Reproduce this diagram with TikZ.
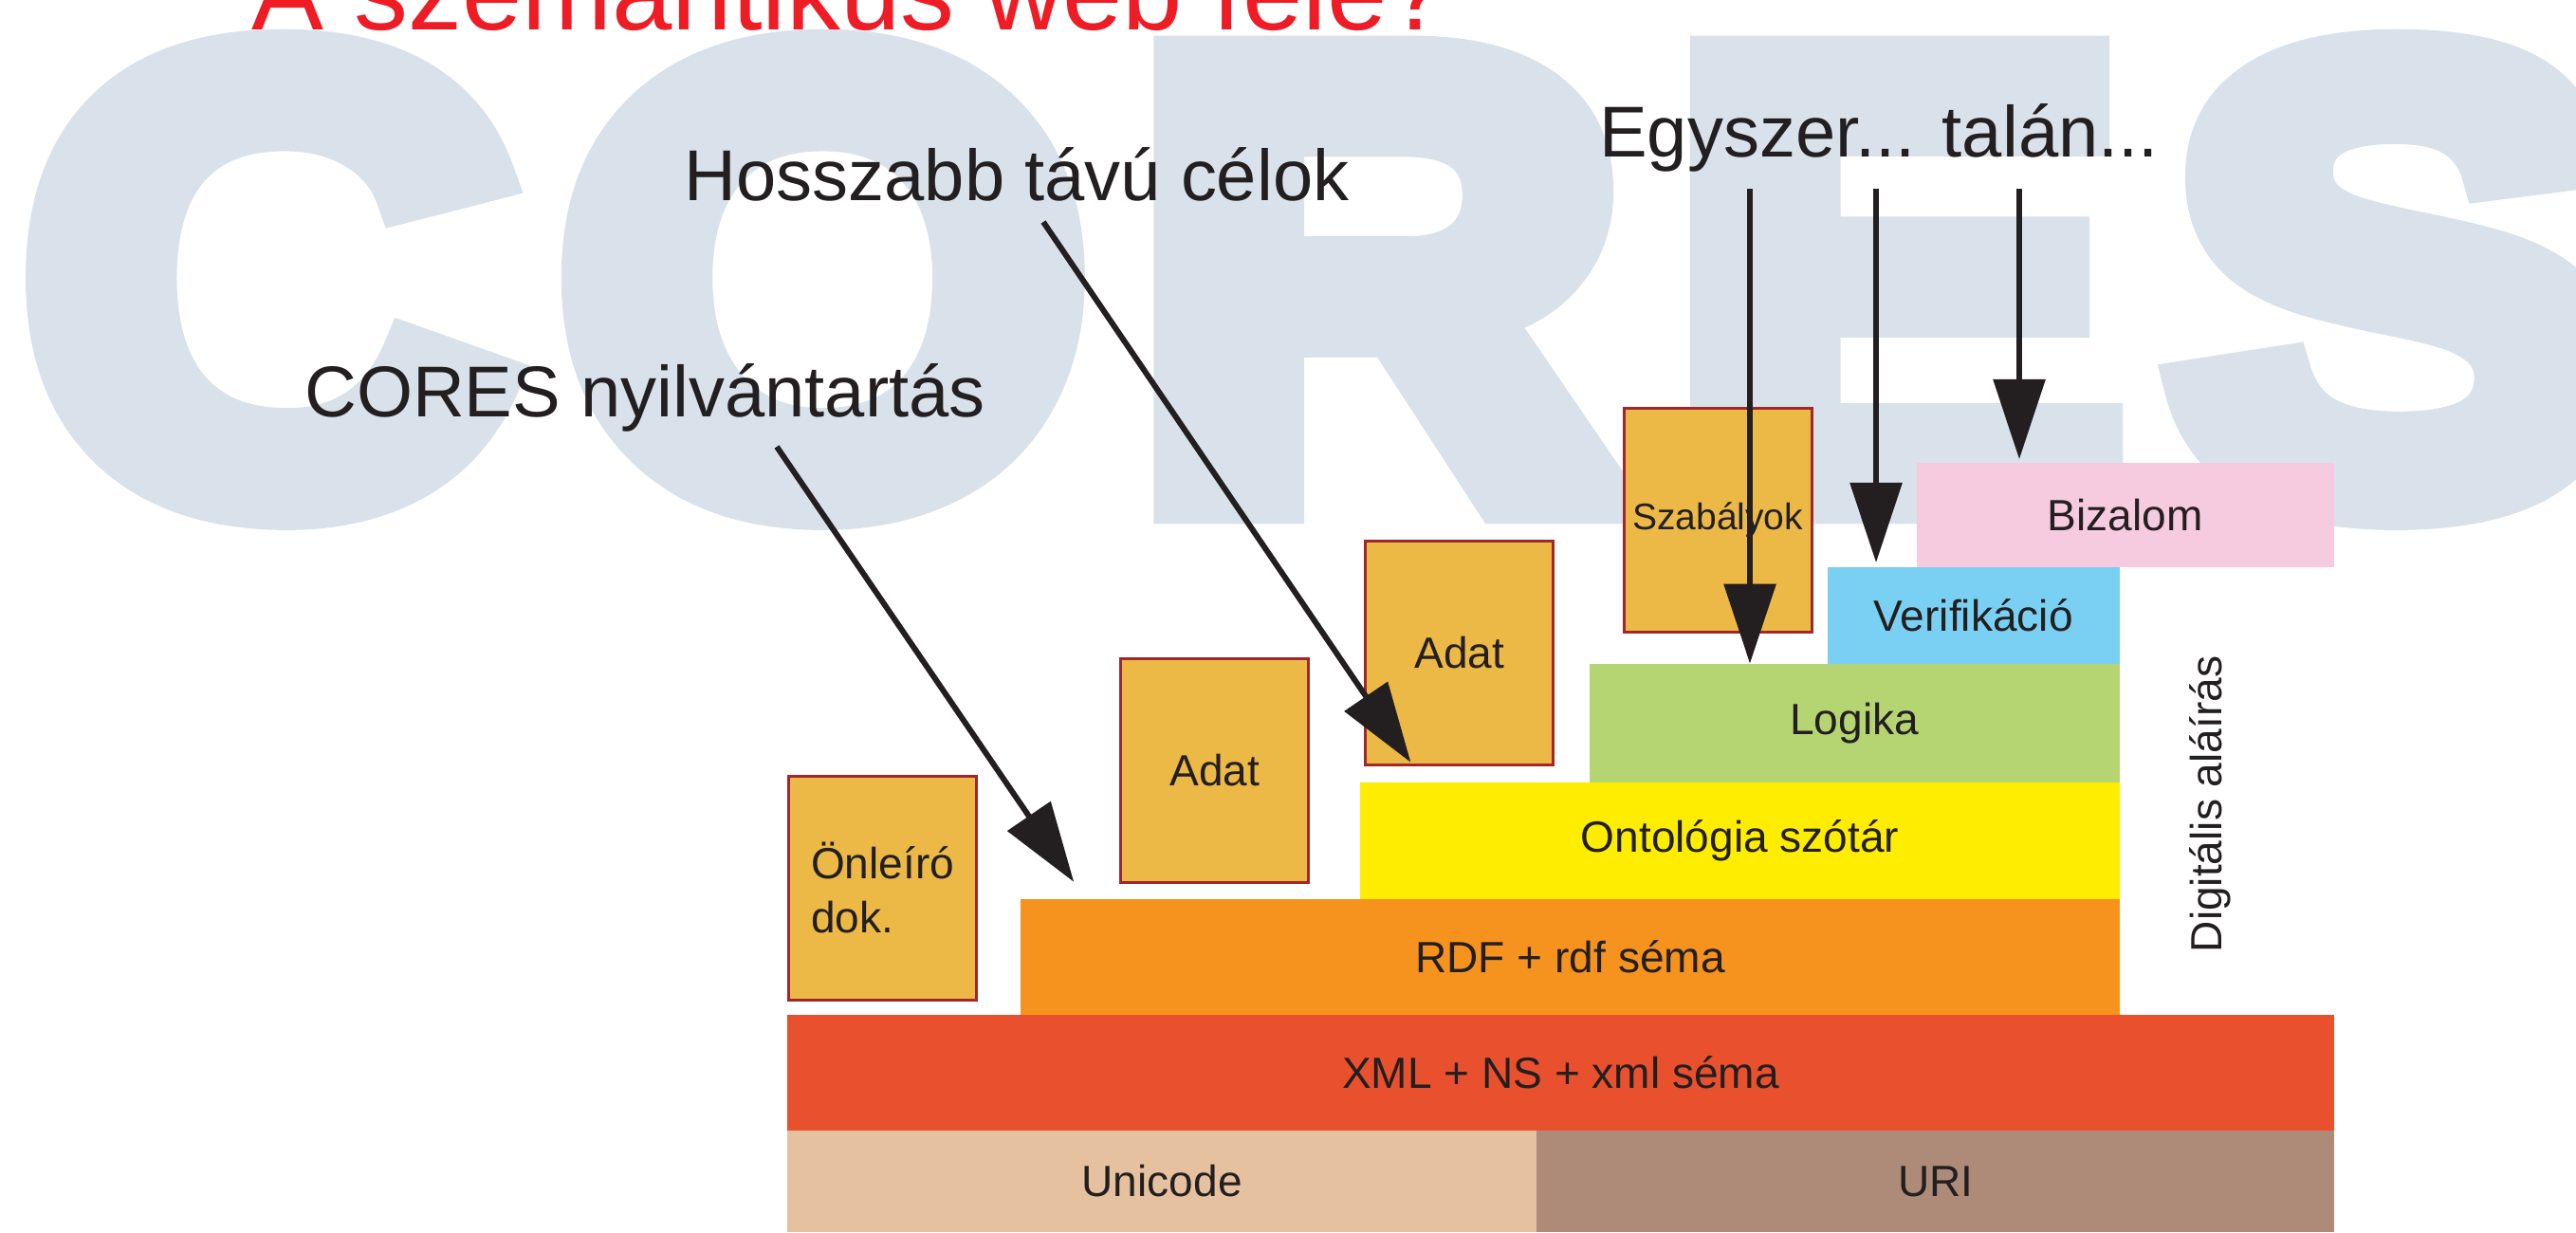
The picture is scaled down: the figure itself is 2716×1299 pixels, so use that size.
\documentclass[tikz,border=0pt]{standalone}
\usepackage{fontspec}
\usepackage{graphicx}
\setmainfont{Liberation Sans}
\newfontfamily\coresfont{Liberation Sans Bold}[FakeBold=7.8, LetterSpace=7.0]
\usetikzlibrary{positioning,arrows.meta}

\definecolor{coresbg}{HTML}{D9E2EA}
\definecolor{titlered}{HTML}{EE1C25}
\definecolor{ink}{HTML}{231F20}
\definecolor{unicodec}{HTML}{E6C19F}
\definecolor{uric}{HTML}{AE8A78}
\definecolor{xmlc}{HTML}{E9502D}
\definecolor{rdfc}{HTML}{F6921E}
\definecolor{ontoc}{HTML}{FFED00}
\definecolor{logikac}{HTML}{B5D572}
\definecolor{verifc}{HTML}{7AD0F3}
\definecolor{bizalomc}{HTML}{F6CADF}
\definecolor{docfill}{HTML}{ECB946}
\definecolor{docline}{HTML}{A3262A}

\tikzset{
  layer/.style={inner sep=0pt, outer sep=0pt, text=ink, font=\fontsize{13.1}{16}\selectfont},
  doc/.style={draw=docline, line width=0.03cm, fill=docfill, inner sep=0pt, text=ink,
    minimum width=1.98cm, minimum height=2.36cm, font=\fontsize{13.1}{16.2}\selectfont},
  label/.style={inner sep=0pt, anchor=base, text=ink, font=\fontsize{21.6}{26}\selectfont},
  arr/.style={draw=ink, line width=0.06cm, -{Triangle[length=0.84cm,width=0.54cm]}},
}

\begin{document}
\begin{tikzpicture}[x=0.01cm, y=-0.01cm]
  \useasboundingbox (0,0) rectangle (2716,1299);
  % background lettering and title
  \node (bg) [inner sep=0pt, anchor=base west, text=coresbg,
    font=\fontsize{191}{191}\coresfont] at (25,526) {\scalebox{1.063}[1]{CORES}};
  \node (title) [inner sep=0pt, anchor=base west, text=titlered,
    font=\fontsize{32.4}{36}\selectfont] at (265,31) {A szemantikus web felé?};
  % layers
  \node (unicode) [layer, fill=unicodec, minimum width=7.9cm, minimum height=1.07cm,
    anchor=south west] at (830,1299) {Unicode};
  \node (uri) [layer, fill=uric, minimum width=8.4cm, minimum height=1.07cm,
    right=0pt of unicode] {URI};
  \node (xml) [layer, fill=xmlc, minimum width=16.3cm, minimum height=1.22cm,
    above right=0pt and 0pt of unicode.north west] {XML + NS + xml séma};
  \node (rdf) [layer, fill=rdfc, minimum width=11.58cm, minimum height=1.22cm,
    above left=0pt and 2.26cm of xml.north east] {RDF + rdf séma};
  \node (onto) [layer, fill=ontoc, minimum width=8cm, minimum height=1.23cm,
    above left=0pt and 0pt of rdf.north east] {Ontológia szótár};
  \node (logika) [layer, fill=logikac, minimum width=5.59cm, minimum height=1.25cm,
    above left=0pt and 0pt of onto.north east] {Logika};
  \node (verif) [layer, fill=verifc, minimum width=3.08cm, minimum height=1.02cm,
    above left=0pt and 0pt of logika.north east] {Verifikáció};
  \node (bizalom) [layer, fill=bizalomc, minimum width=4.4cm, minimum height=1.1cm,
    anchor=south east] at (xml.east |- verif.north) {Bizalom};
  \node (digit) [layer, rotate=90] at (2330,848) {Digitális aláírás};
  % documents
  \node (onleiro) [doc, align=left, above right=0.14cm and 0pt of xml.north west] {Önleíró\\dok.};
  \node (adatA) [doc, above right=0.16cm and 1.04cm of rdf.north west] {Adat};
  \node (adatB) [doc, above right=0.17cm and 0.04cm of onto.north west] {Adat};
  \node (szabalyok) [doc, font=\fontsize{11.1}{13}\selectfont,
    above right=0.32cm and 0.35cm of logika.north west] {Szabályok};
  % labels
  \node (celok) [label] at (1072,211) {Hosszabb távú célok};
  \node (nyilv) [label] at (680,439) {CORES nyilvántartás};
  \node (egyszer) [label] at (1981,165) {Egyszer... talán...};
  \coordinate (nyilvFrom) at (819,471);
  \coordinate (nyilvTo) at ([xshift=0.56cm, yshift=0.18cm]rdf.north west);
  \coordinate (celokFrom) at (1100,234);
  \coordinate (celokTo) at ([xshift=0.49cm, yshift=0.04cm]adatB.south west);
  \coordinate (e1) at (1845,199);
  \coordinate (e2) at (1978,199);
  \coordinate (e3) at (2129,199);
  \coordinate (e1to) at (e1 |- logika.north);
  \coordinate (e2to) at (1978,593);
  \coordinate (e3to) at (2129,484);
  \path (nyilvFrom) edge[arr] (nyilvTo)
        (celokFrom) edge[arr] (celokTo)
        (e1) edge[arr] (e1to)
        (e2) edge[arr] (e2to)
        (e3) edge[arr] (e3to)
        ;
\end{tikzpicture}
\end{document}
